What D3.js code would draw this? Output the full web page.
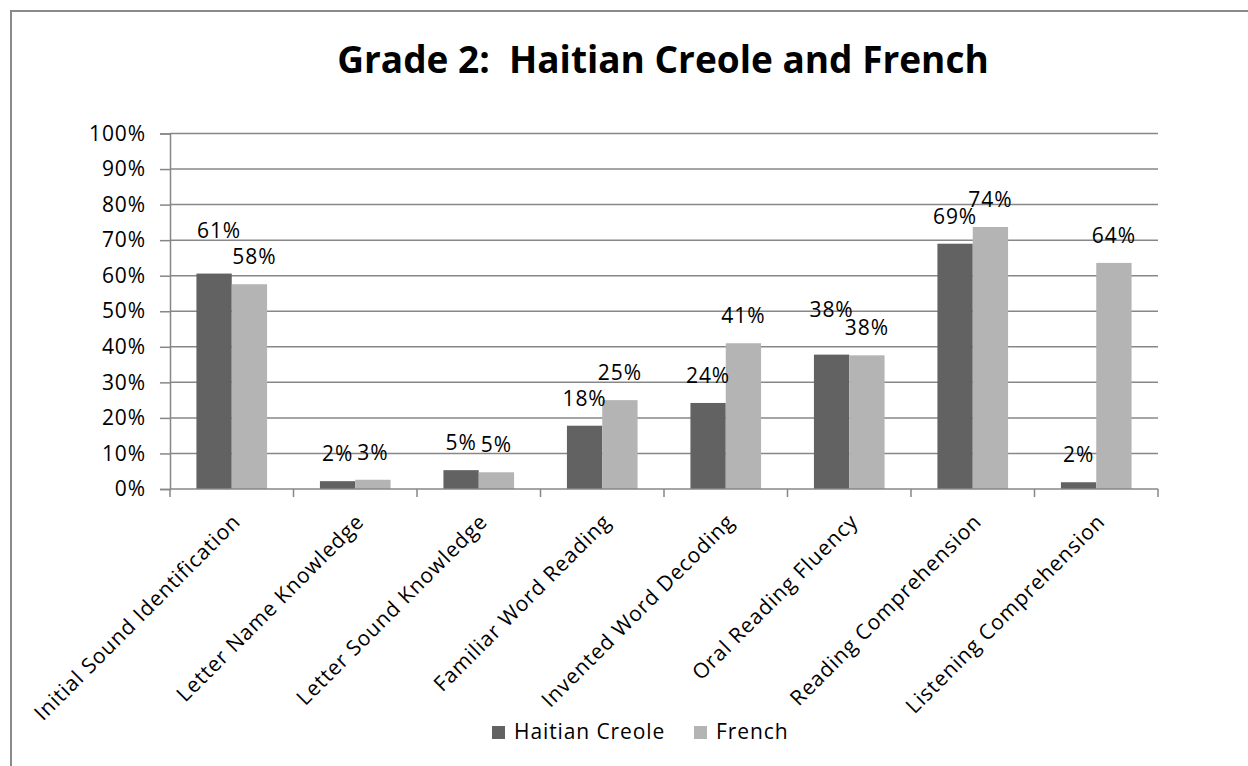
<!DOCTYPE html>
<html>
<head>
<meta charset="utf-8">
<script src="https://cdn.jsdelivr.net/npm/d3@7/dist/d3.min.js"></script>
<style>
  html, body { margin: 0; padding: 0; background: #fff; }
  svg { display: block; }
  text { font-family: "Open Sans", "Noto Sans", sans-serif; fill: #000; }
</style>
</head>
<body>
<svg id="chart" width="1248" height="766"></svg>
<script>
// Grade 2 EGRA subtask scores, share of pupils, by language of assessment
const categories = [
  "Initial Sound Identification",
  "Letter Name Knowledge",
  "Letter Sound Knowledge",
  "Familiar Word Reading",
  "Invented Word Decoding",
  "Oral Reading Fluency",
  "Reading Comprehension",
  "Listening Comprehension"
];
const seriesNames = ["Haitian Creole", "French"];
const haitianCreole = [0.606, 0.022, 0.053, 0.178, 0.242, 0.378, 0.690, 0.019];
const french        = [0.576, 0.026, 0.047, 0.250, 0.410, 0.376, 0.737, 0.636];
const yTicks = [0, 0.1, 0.2, 0.3, 0.4, 0.5, 0.6, 0.7, 0.8, 0.9, 1.0];
const titleText = "Grade 2:  Haitian Creole and French";

const colors = { "Haitian Creole": "#626262", "French": "#b4b4b4" };
const axisColor = "#878787";
const fmt = d3.format(".0%");
const textSize = "21px";
const textSpacing = "0.9px";

const svg = d3.select("#chart");

// outer chart frame (runs off the right and bottom edges)
svg.append("rect")
  .attr("x", 11).attr("y", 11)
  .attr("width", 1400).attr("height", 900)
  .attr("fill", "#fff")
  .attr("stroke", "#8a8a8a").attr("stroke-width", 2);

const plot = { left: 170, right: 1158, top: 133.5, bottom: 489 };

const x0 = d3.scaleBand().domain(categories).range([plot.left, plot.right]).padding(0);
const band = x0.bandwidth();
const x1 = d3.scaleBand().domain(seriesNames).range([band * 0.214, band * 0.786]).padding(0);
const y = d3.scaleLinear().domain([0, 1]).range([plot.bottom, plot.top]);

// title (keeps the double space after the colon)
svg.append("text")
  .attr("x", 663).attr("y", 73)
  .attr("text-anchor", "middle")
  .attr("xml:space", "preserve")
  .style("white-space", "pre")
  .style("font-size", "37px").style("font-weight", "700")
  .text(titleText);

// horizontal gridlines
svg.append("g").selectAll("line")
  .data(yTicks.filter(d => d > 0))
  .join("line")
  .attr("x1", plot.left).attr("x2", plot.right)
  .attr("y1", d => y(d)).attr("y2", d => y(d))
  .attr("stroke", axisColor).attr("stroke-width", 1.5);

// y axis
const yAxis = svg.append("g")
  .attr("transform", `translate(${plot.left},0)`)
  .call(d3.axisLeft(y).tickValues(yTicks).tickFormat(fmt).tickSize(10).tickPadding(14));
yAxis.select(".domain").attr("stroke", axisColor).attr("stroke-width", 1.5);
yAxis.selectAll(".tick line").attr("stroke", axisColor).attr("stroke-width", 1.5);
yAxis.selectAll(".tick text")
  .attr("fill", "#000")
  .style("font-family", "'Open Sans', sans-serif")
  .style("font-size", textSize)
  .style("letter-spacing", textSpacing);

// bars
const rows = categories.map((c, i) => ({
  category: c,
  values: [
    { series: "Haitian Creole", value: haitianCreole[i], index: i },
    { series: "French", value: french[i], index: i }
  ]
}));

const groups = svg.append("g").selectAll("g")
  .data(rows)
  .join("g")
  .attr("transform", d => `translate(${x0(d.category)},0)`);

groups.selectAll("rect")
  .data(d => d.values)
  .join("rect")
  .attr("x", d => x1(d.series))
  .attr("width", x1.bandwidth())
  .attr("y", d => y(d.value))
  .attr("height", d => y(0) - y(d.value))
  .attr("fill", d => colors[d.series]);

// x axis line and category separator ticks
svg.append("line")
  .attr("x1", plot.left).attr("x2", plot.right)
  .attr("y1", plot.bottom).attr("y2", plot.bottom)
  .attr("stroke", axisColor).attr("stroke-width", 1.5);
const boundaries = categories.map(c => x0(c)).concat([plot.right]);
svg.append("g").selectAll("line")
  .data(boundaries)
  .join("line")
  .attr("x1", d => d).attr("x2", d => d)
  .attr("y1", plot.bottom).attr("y2", plot.bottom + 8)
  .attr("stroke", axisColor).attr("stroke-width", 1.5);

// value labels; a few sit higher / shifted to avoid overlaps
const labelShift = {
  "Haitian Creole|0": { dx: 5, dy: -16 },
  "French|0": { dx: 5, dy: 0 },
  "Haitian Creole|5": { dx: 0, dy: -18 }
};
const shiftOf = d => labelShift[d.series + "|" + d.index] || { dx: 0, dy: 0 };
groups.selectAll("text.val")
  .data(d => d.values)
  .join("text")
  .attr("class", "val")
  .attr("text-anchor", "middle")
  .style("font-size", textSize)
  .style("letter-spacing", textSpacing)
  .attr("x", d => x1(d.series) + x1.bandwidth() / 2 + shiftOf(d).dx)
  .attr("y", d => y(d.value) - 20 + shiftOf(d).dy)
  .text(d => fmt(d.value));

// rotated category labels
svg.append("g").selectAll("text")
  .data(categories)
  .join("text")
  .attr("text-anchor", "end")
  .style("font-size", textSize)
  .style("letter-spacing", textSpacing)
  .attr("transform", d => `translate(${x0(d) + band / 2 + 10},${plot.bottom + 34}) rotate(-45)`)
  .text(d => d);

// legend
const legendItems = [
  { name: "Haitian Creole", x: 492 },
  { name: "French", x: 694 }
];
const legend = svg.append("g").selectAll("g")
  .data(legendItems)
  .join("g")
  .attr("transform", d => `translate(${d.x},726)`);
legend.append("rect")
  .attr("width", 13).attr("height", 13)
  .attr("fill", d => colors[d.name]);
legend.append("text")
  .attr("x", 22).attr("y", 13)
  .style("font-size", textSize)
  .style("letter-spacing", textSpacing)
  .text(d => d.name);
</script>
</body>
</html>
